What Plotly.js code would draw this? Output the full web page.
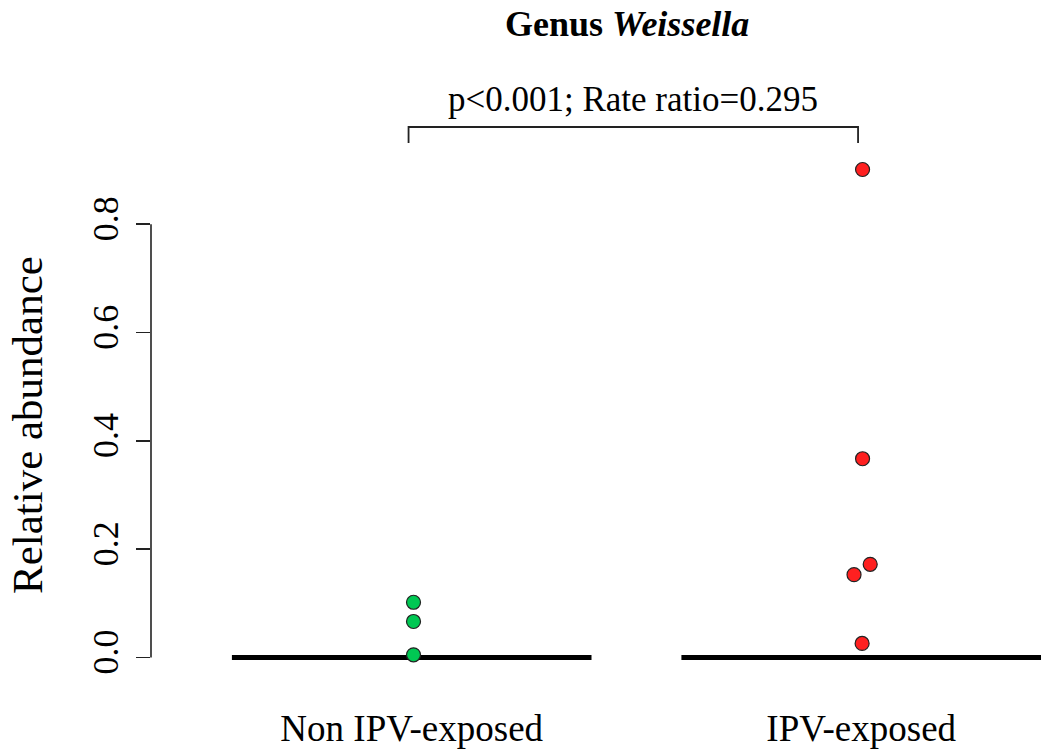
<!DOCTYPE html>
<html>
<head>
<meta charset="utf-8">
<script src="https://cdn.plot.ly/plotly-3.0.1.min.js"></script>
<style>html,body{margin:0;padding:0;background:#fff;}#chart{width:1050px;height:752px;}</style>
</head>
<body>
<div id="chart"></div>
<script>
// ---- data ----
const categories = ["Non IPV-exposed", "IPV-exposed"];
const nonExposedValues = [0.102, 0.0665, 0.005];
const nonExposedJitter = [0.004, 0.004, 0.004];
const exposedValues = [0.901, 0.367, 0.172, 0.153, 0.026];
const exposedJitter = [0.003, 0.003, 0.02, -0.016, 0.002];
const medians = [0, 0];
const yTickValues = [0, 0.2, 0.4, 0.6, 0.8];
const yTickLabels = ["0.0", "0.2", "0.4", "0.6", "0.8"];
const titleText = "<b>Genus <i>Weissella</i></b>";
const testText = "p<0.001; Rate ratio=0.295";
const yTitle = "Relative abundance";

const FONT = "Liberation Serif, Times New Roman, serif";
const groups = [
  {vals: nonExposedValues, jit: nonExposedJitter, color: "#00C853"},
  {vals: exposedValues, jit: exposedJitter, color: "#FF2020"}
];

const traces = [];
// median lines
medians.forEach((m, i) => {
  traces.push({
    type: "scatter", mode: "lines",
    x: [i + 1 - 0.4, i + 1 + 0.4], y: [m, m],
    line: {color: "#000", width: 5},
    hoverinfo: "skip", showlegend: false
  });
});
// points
groups.forEach((g, i) => {
  traces.push({
    type: "scatter", mode: "markers",
    x: g.vals.map((v, k) => i + 1 + g.jit[k]),
    y: g.vals,
    marker: {color: g.color, size: 14, line: {color: "#222", width: 1.2}},
    cliponaxis: false, showlegend: false
  });
});

const layout = {
  width: 1050, height: 752,
  margin: {l: 151, r: 0, t: 150, b: 75},
  paper_bgcolor: "#fff", plot_bgcolor: "#fff",
  showlegend: false,
  xaxis: {
    range: [0.42, 2.42],
    tickvals: categories.map((c, i) => i + 1),
    ticktext: categories,
    ticks: "", showline: false, showgrid: false, zeroline: false,
    tickfont: {family: FONT, size: 37, color: "#000"},
    ticklabelstandoff: 26
  },
  yaxis: {
    range: [-0.036, 0.937],
    tickvals: yTickValues, ticktext: yTickLabels,
    ticks: "outside", ticklen: 14, tickwidth: 1.6, tickcolor: "#222",
    tickangle: -90,
    showline: false, showgrid: false, zeroline: false,
    tickfont: {family: FONT, size: 36, color: "#000"},
    ticklabelstandoff: 4
  },
  shapes: [
    {type: "line", xref: "paper", yref: "y", x0: 0, x1: 0,
     y0: yTickValues[0], y1: yTickValues[yTickValues.length - 1],
     line: {color: "#222", width: 1.6}},
    {type: "path", xref: "x", yref: "paper",
     path: "M 0.993 1.0133 L 0.993 1.0436 L 1.993 1.0436 L 1.993 1.0133",
     line: {color: "#222", width: 1.8}}
  ],
  annotations: [
    {text: titleText, xref: "paper", yref: "paper", x: 0.5295, y: 1.239,
     xanchor: "center", yanchor: "middle", showarrow: false,
     font: {family: FONT, size: 36, color: "#000"}},
    {text: testText, xref: "x", yref: "paper", x: 1.492, y: 1.095,
     xanchor: "center", yanchor: "middle", showarrow: false,
     font: {family: FONT, size: 35, color: "#000"}},
    {text: yTitle, xref: "paper", yref: "paper", x: -0.138, y: 0.478,
     xanchor: "center", yanchor: "middle", showarrow: false, textangle: -90,
     font: {family: FONT, size: 43, color: "#000"}}
  ]
};

Plotly.newPlot("chart", traces, layout, {displayModeBar: false, staticPlot: true});
</script>
</body>
</html>
